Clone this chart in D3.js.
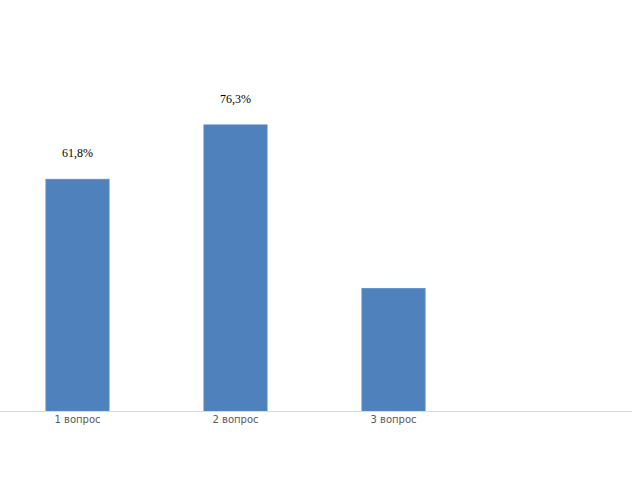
<!DOCTYPE html>
<html lang="ru">
  <head>
    <meta charset="UTF-8" />
    <title>Chart</title>
    <script src="https://cdn.jsdelivr.net/npm/d3@7"></script>
    <style>
      body {
        padding: 0;
        margin: 0;
        background: #fff;
      }
    </style>
  </head>
  <body>
    <svg id="chart" width="640" height="480"></svg>
    <script>
      // data
      const categories = ["1 вопрос", "2 вопрос", "3 вопрос", ""];
      const values = [61.8, 76.3, 32.7, null];
      const valueLabels = ["61,8%", "76,3%", "", ""];

      const svg = d3.select("#chart");

      const x = d3
        .scaleBand()
        .domain(d3.range(categories.length))
        .range([-1.5, 630.5])
        .paddingInner(0.6)
        .paddingOuter(0.3);

      const y = d3.scaleLinear().domain([0, 100]).range([411, 36]);

      // bars
      svg
        .selectAll("rect.bar")
        .data(values.map((v, i) => ({ v, i })).filter((d) => d.v != null))
        .enter()
        .append("rect")
        .attr("class", "bar")
        .attr("x", (d) => x(d.i))
        .attr("y", (d) => y(d.v))
        .attr("width", x.bandwidth())
        .attr("height", (d) => y(0) - y(d.v))
        .attr("fill", "#4f81bd")
        .attr("stroke", "#5b8dc9")
        .attr("stroke-width", 0.8);

      // axis line
      const axis = svg
        .append("g")
        .attr("transform", "translate(0," + y(0) + ")")
        .call(d3.axisBottom(x).tickSize(0).tickFormat((i) => categories[i]));
      axis.select(".domain").attr("stroke", "#d9d9d9").attr("d", "M0,0.5H632");
      axis
        .selectAll("text")
        .attr("dy", "0.71em")
        .attr("y", 5)
        .attr("fill", "#595959")
        .style("font-family", "'DejaVu Sans', sans-serif")
        .style("font-size", "10px");

      // value labels
      svg
        .selectAll("text.val")
        .data(values.map((v, i) => ({ v, i })).filter((d) => valueLabels[d.i]))
        .enter()
        .append("text")
        .attr("class", "val")
        .attr("x", (d) => x(d.i) + x.bandwidth() / 2)
        .attr("y", (d) => y(d.v) - 22)
        .attr("text-anchor", "middle")
        .attr("fill", "#000")
        .style("font-family", "'Liberation Serif', 'DejaVu Serif', serif")
        .style("font-size", "12px")
        .text((d) => valueLabels[d.i]);
    </script>
  </body>
</html>
